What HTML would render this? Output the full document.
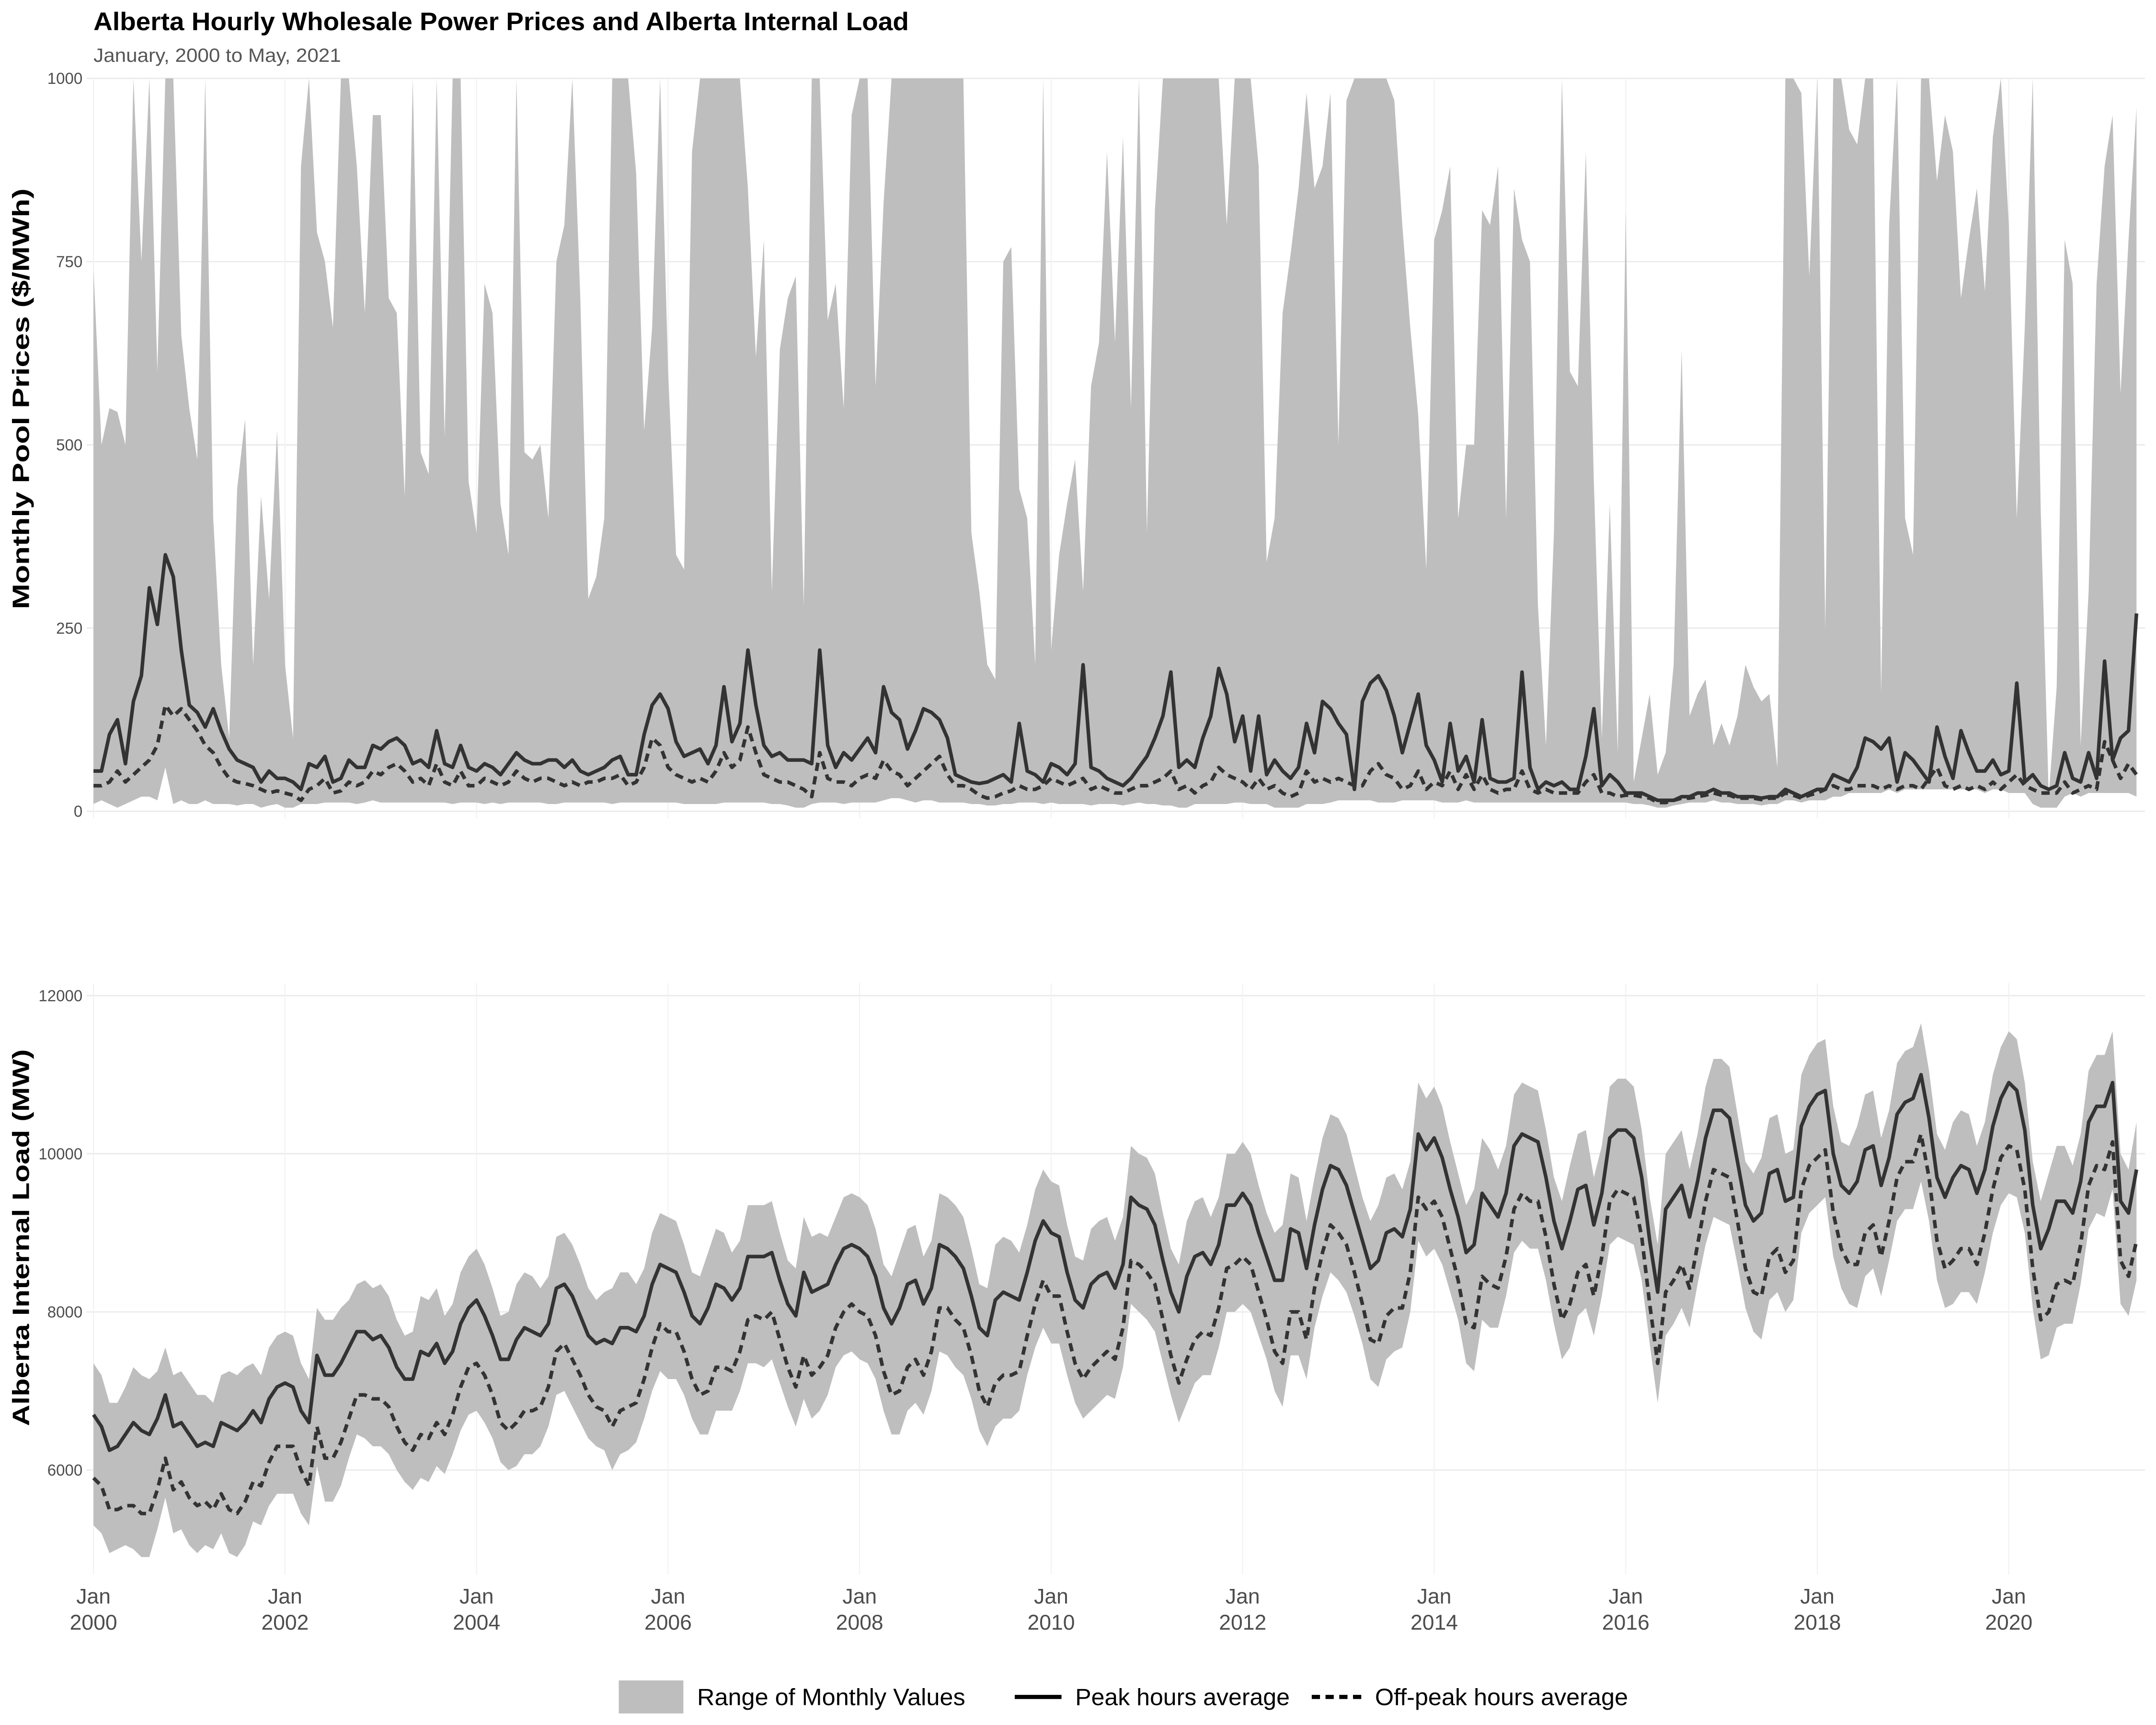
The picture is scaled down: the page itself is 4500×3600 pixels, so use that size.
<!DOCTYPE html>
<html><head><meta charset="utf-8">
<style>
html,body{margin:0;padding:0;background:#fff;}
svg{display:block;}
text{font-family:"Liberation Sans",Arial,sans-serif;}
</style></head>
<body>
<svg id="chart" width="4500" height="3600" viewBox="0 0 1568 1254.4" preserveAspectRatio="none" xmlns="http://www.w3.org/2000/svg">
<rect x="0" y="0" width="1568" height="1254.4" fill="#fff"/>
<text x="68" y="22" font-size="18.5" font-weight="bold" fill="#000" textLength="593" lengthAdjust="spacingAndGlyphs">Alberta Hourly Wholesale Power Prices and Alberta Internal Load</text>
<text x="68" y="45" font-size="14" fill="#555" textLength="180" lengthAdjust="spacingAndGlyphs">January, 2000 to May, 2021</text>
<text transform="translate(21,290) rotate(-90)" text-anchor="middle" font-size="17" font-weight="bold" fill="#000" textLength="306" lengthAdjust="spacingAndGlyphs">Monthly Pool Prices ($/MWh)</text>
<text transform="translate(21,900) rotate(-90)" text-anchor="middle" font-size="17" font-weight="bold" fill="#000" textLength="274" lengthAdjust="spacingAndGlyphs">Alberta Internal Load (MW)</text>
<defs><clipPath id="topclip"><rect x="60" y="56" width="1500" height="540"/></clipPath></defs>
<g id="grid"></g>
<g id="topPanel" clip-path="url(#topclip)"></g>
<g id="bottomPanel"></g>
<g id="axes"></g>
<g id="legend">
  <rect x="450" y="1222" width="47" height="24" fill="#bebebe"/>
  <text x="507" y="1240" font-size="17" fill="#000" textLength="195" lengthAdjust="spacingAndGlyphs">Range of Monthly Values</text>
  <line x1="738" y1="1234" x2="772" y2="1234" stroke="#000" stroke-width="3"/>
  <text x="782" y="1240" font-size="17" fill="#000" textLength="156" lengthAdjust="spacingAndGlyphs">Peak hours average</text>
  <line x1="954" y1="1234" x2="990" y2="1234" stroke="#000" stroke-width="3" stroke-dasharray="6,4"/>
  <text x="1000" y="1240" font-size="17" fill="#000" textLength="184" lengthAdjust="spacingAndGlyphs">Off-peak hours average</text>
</g>
</svg>
<script>
const priceMax=[740,500,550,545,500,1000,750,1000,600,1000,1000,650,
550,480,1000,400,200,100,440,535,200,430,290,520,
200,100,880,1000,790,750,660,1000,1000,880,680,950,
950,700,680,430,1000,490,460,1000,510,1000,1000,450,
380,720,680,420,350,1000,490,480,500,400,750,800,
1000,700,290,320,400,1000,1000,1000,870,520,660,1000,
600,350,330,900,1000,1000,1000,1000,1000,1000,850,620,
780,300,630,700,730,280,1000,1000,670,720,550,950,
1000,1000,580,830,1000,1000,1000,1000,1000,1000,1000,1000,
1000,1000,380,300,200,180,750,770,440,400,200,1000,
220,350,420,480,300,580,640,900,640,920,550,1000,
380,820,1000,1000,1000,1000,1000,1000,1000,1000,800,1000,
1000,1000,880,340,400,680,760,850,980,850,880,980,
500,970,1000,1000,1000,1000,1000,970,800,660,540,330,
780,820,880,400,500,500,820,800,880,400,850,780,
750,280,90,380,1000,600,580,900,450,100,420,80,
820,40,100,160,50,80,200,630,130,160,180,90,
120,90,130,200,170,150,160,60,1000,1000,980,730,
1000,250,1000,1000,930,910,1000,1000,160,800,1000,400,
350,1000,1000,860,950,900,700,780,850,710,920,1000,
800,400,660,1000,410,20,170,780,720,90,300,720,
880,950,570,780,960];
const priceMin=[10,15,10,5,10,15,20,20,15,60,10,15,
10,10,15,10,10,10,8,10,10,5,8,10,
5,5,10,10,10,12,12,12,12,10,12,15,
12,12,12,12,12,12,12,12,12,10,12,12,
12,10,12,10,12,12,12,12,12,10,10,12,
12,12,12,12,12,10,12,12,12,12,12,12,
12,12,10,10,10,10,10,12,12,12,12,12,
12,10,10,8,5,5,10,12,12,12,10,12,
12,12,12,15,18,18,15,12,15,15,12,12,
12,12,10,10,8,8,10,10,12,12,12,10,
12,10,10,10,10,8,10,10,10,8,10,12,
10,10,8,8,5,5,10,10,10,10,10,12,
12,10,10,10,5,5,5,5,10,10,10,12,
15,15,15,15,15,12,12,12,15,15,15,15,
15,12,12,12,15,12,12,12,12,12,12,12,
12,12,12,12,12,12,12,12,12,12,12,12,
12,10,10,8,5,5,8,10,12,12,12,15,
12,12,10,10,10,8,10,10,15,15,12,15,
15,15,20,20,25,25,25,25,25,30,25,30,
30,30,30,30,30,30,30,30,30,25,30,30,
25,25,25,10,5,5,5,20,25,20,25,25,
25,25,25,25,20];
const pricePeak=[55,55,105,125,65,150,185,305,255,350,320,220,
145,135,115,140,110,85,70,65,60,40,55,45,
45,40,30,65,60,75,40,45,70,60,60,90,
85,95,100,90,65,70,60,110,65,60,90,60,
55,65,60,50,65,80,70,65,65,70,70,60,
70,55,50,55,60,70,75,50,50,105,145,160,
140,95,75,80,85,65,90,170,95,120,220,145,
90,75,80,70,70,70,65,220,90,60,80,70,
85,100,80,170,135,125,85,110,140,135,125,100,
50,45,40,38,40,45,50,40,120,55,50,40,
65,60,50,65,200,60,55,45,40,35,45,60,
75,100,130,190,60,70,60,100,130,195,160,95,
130,55,130,50,70,55,45,60,120,80,150,140,
120,105,30,150,175,185,165,130,80,120,160,90,
70,40,120,55,75,40,125,45,40,40,45,190,
60,30,40,35,40,30,30,75,140,35,50,40,
25,25,25,20,15,15,15,20,20,25,25,30,
25,25,20,20,20,18,20,20,30,25,20,25,
30,30,50,45,40,60,100,95,85,100,40,80,
70,55,40,115,75,45,110,80,55,55,70,50,
55,175,40,50,35,30,35,80,45,40,80,45,
205,70,100,110,270];
const priceOff=[35,35,40,55,40,50,60,70,90,145,130,140,
125,110,90,80,60,45,40,38,35,30,25,28,
25,22,15,30,35,45,25,28,40,35,40,55,
50,60,65,55,40,45,35,65,40,35,55,35,
35,45,40,35,40,55,45,40,45,45,40,35,
40,35,40,40,45,45,50,35,40,60,100,90,
60,50,45,40,45,40,55,80,60,70,115,80,
50,45,40,40,35,30,20,80,45,40,40,35,
45,50,45,70,55,50,35,45,55,65,75,50,
35,35,30,22,18,20,25,28,35,30,30,35,
45,40,35,40,45,30,35,30,25,25,30,35,
35,40,45,55,30,35,25,35,40,60,50,45,
40,30,45,30,35,25,20,25,55,40,45,40,
45,40,35,35,55,65,50,45,30,35,55,30,
40,35,55,30,50,30,50,30,25,30,30,55,
30,25,30,25,25,25,25,40,50,25,25,20,
22,22,20,18,12,12,15,18,18,20,22,25,
22,22,18,18,18,16,18,18,25,22,18,22,
25,30,35,30,30,35,35,35,30,35,30,35,
35,30,45,60,35,30,35,30,35,30,40,30,
40,50,35,30,25,25,25,40,25,30,35,30,
95,70,45,65,50];
const loadPeak=[6700,6550,6250,6300,6450,6600,6500,6450,6650,6950,6550,6600,
6450,6300,6350,6300,6600,6550,6500,6600,6750,6600,6900,7050,
7100,7050,6750,6600,7450,7200,7200,7350,7550,7750,7750,7650,
7700,7550,7300,7150,7150,7500,7450,7600,7350,7500,7850,8050,
8150,7950,7700,7400,7400,7650,7800,7750,7700,7850,8300,8350,
8200,7950,7700,7600,7650,7600,7800,7800,7750,7950,8350,8600,
8550,8500,8250,7950,7850,8050,8350,8300,8150,8300,8700,8700,
8700,8750,8400,8100,7950,8500,8250,8300,8350,8600,8800,8850,
8800,8700,8450,8050,7850,8050,8350,8400,8100,8300,8850,8800,
8700,8550,8200,7800,7700,8150,8250,8200,8150,8500,8900,9150,
9000,8950,8500,8150,8050,8350,8450,8500,8300,8600,9450,9350,
9300,9100,8650,8250,8000,8450,8700,8750,8600,8850,9350,9350,
9500,9350,9000,8700,8400,8400,9050,9000,8550,9100,9550,9850,
9800,9600,9250,8900,8550,8650,9000,9050,8950,9300,10250,10050,
10200,9950,9550,9200,8750,8850,9500,9350,9200,9500,10100,10250,
10200,10150,9700,9150,8800,9150,9550,9600,9100,9500,10200,10300,
10300,10200,9700,8900,8250,9300,9450,9600,9200,9650,10200,10550,
10550,10450,9900,9350,9150,9250,9750,9800,9400,9450,10350,10600,
10750,10800,10000,9600,9500,9650,10050,10100,9600,9950,10500,10650,
10700,11000,10450,9700,9450,9700,9850,9800,9500,9800,10350,10700,
10900,10800,10300,9350,8800,9050,9400,9400,9250,9650,10400,10600,
10600,10900,9400,9250,9800];
const loadOff=[5900,5800,5500,5500,5550,5550,5450,5450,5750,6150,5750,5850,
5650,5550,5600,5500,5700,5500,5450,5600,5850,5800,6100,6300,
6300,6300,6000,5800,6550,6150,6150,6350,6650,6950,6950,6900,
6900,6800,6550,6350,6250,6450,6400,6600,6450,6700,7050,7300,
7350,7200,6950,6600,6500,6600,6750,6750,6800,7050,7500,7600,
7400,7200,6950,6800,6750,6550,6750,6800,6850,7150,7550,7850,
7750,7750,7500,7150,6950,7000,7300,7300,7250,7500,7900,7950,
7900,8000,7650,7300,7050,7450,7200,7300,7450,7800,8000,8100,
8000,7950,7700,7250,6950,7000,7300,7400,7200,7500,8050,8050,
7900,7800,7450,7000,6800,7100,7200,7200,7250,7700,8100,8400,
8200,8200,7750,7350,7150,7300,7400,7500,7400,7800,8650,8600,
8500,8350,7900,7450,7100,7400,7650,7750,7700,8050,8550,8600,
8700,8600,8250,7900,7500,7350,8000,8000,7650,8300,8750,9100,
9000,8850,8500,8100,7650,7600,7950,8050,8050,8500,9450,9300,
9400,9200,8800,8400,7850,7800,8450,8350,8300,8700,9300,9500,
9400,9400,8950,8350,7900,8100,8500,8600,8200,8700,9400,9550,
9500,9450,8950,8100,7350,8250,8400,8600,8300,8850,9400,9800,
9750,9700,9150,8550,8250,8200,8700,8800,8500,8650,9550,9850,
9950,10050,9250,8800,8600,8600,9000,9100,8700,9150,9700,9900,
9900,10250,9700,8900,8550,8650,8800,8800,8600,9000,9550,9950,
10100,10050,9550,8550,7900,8000,8350,8400,8350,8850,9600,9850,
9800,10150,8650,8450,8900];
const loadMax=[7350,7200,6850,6850,7050,7300,7200,7150,7250,7550,7200,7250,
7100,6950,6950,6850,7200,7250,7200,7300,7350,7200,7550,7700,
7750,7700,7350,7150,8050,7900,7900,8050,8150,8350,8400,8300,
8350,8200,7900,7700,7750,8200,8150,8300,7950,8100,8500,8700,
8800,8600,8300,7950,8000,8350,8500,8450,8300,8450,8950,9000,
8850,8600,8300,8150,8250,8300,8500,8500,8350,8550,9000,9250,
9200,9150,8850,8500,8450,8750,9050,9000,8750,8900,9350,9350,
9350,9400,9000,8650,8550,9200,8950,9000,8950,9200,9450,9500,
9450,9350,9050,8600,8450,8750,9050,9100,8700,8900,9500,9450,
9350,9200,8800,8350,8300,8850,8950,8900,8750,9100,9550,9800,
9650,9600,9100,8700,8650,9050,9150,9200,8900,9200,10100,10000,
9950,9750,9250,8800,8600,9150,9400,9450,9200,9450,10000,10000,
10150,10000,9600,9250,9000,9100,9750,9700,9150,9700,10200,10500,
10450,10250,9850,9450,9150,9350,9700,9750,9550,9900,10900,10700,
10850,10600,10150,9750,9350,9550,10200,10050,9800,10100,10750,10900,
10850,10800,10300,9700,9400,9850,10250,10300,9700,10100,10850,10950,
10950,10850,10300,9450,8850,10000,10150,10300,9800,10250,10850,11200,
11200,11100,10500,9900,9750,9950,10450,10500,10000,10050,11000,11250,
11400,11450,10600,10150,10100,10350,10750,10800,10200,10550,11150,11300,
11350,11650,11050,10250,10050,10400,10550,10500,10100,10400,11000,11350,
11550,11450,10900,9900,9400,9750,10100,10100,9850,10250,11050,11250,
11250,11550,10000,9800,10400];
const loadMin=[5300,5200,4950,5000,5050,5000,4900,4900,5250,5650,5200,5250,
5050,4950,5050,5000,5200,4950,4900,5050,5350,5300,5550,5700,
5700,5700,5450,5300,6050,5600,5600,5800,6150,6450,6400,6300,
6300,6200,6000,5850,5750,5900,5850,6050,5950,6200,6500,6700,
6750,6600,6400,6100,6000,6050,6200,6200,6300,6550,6950,7000,
6800,6600,6400,6300,6250,6000,6200,6250,6350,6650,7000,7250,
7150,7150,6950,6650,6450,6450,6750,6750,6750,7000,7350,7350,
7300,7400,7100,6800,6550,6900,6650,6750,6950,7300,7450,7500,
7400,7350,7150,6750,6450,6450,6750,6850,6700,7000,7500,7450,
7300,7200,6900,6500,6300,6550,6650,6650,6750,7200,7550,7800,
7600,7600,7200,6850,6650,6750,6850,6950,6900,7300,8100,8000,
7900,7750,7350,6950,6600,6850,7100,7200,7200,7550,8000,8000,
8100,8000,7700,7400,7000,6800,7450,7450,7150,7800,8200,8500,
8400,8250,7950,7600,7150,7050,7400,7500,7550,8000,8900,8700,
8800,8600,8250,7900,7350,7250,7900,7800,7800,8200,8750,8900,
8800,8800,8400,7850,7400,7550,7950,8050,7700,8200,8850,8950,
8900,8850,8400,7600,6850,7700,7850,8050,7800,8350,8850,9200,
9150,9100,8600,8050,7750,7650,8150,8250,8000,8150,9000,9250,
9350,9450,8700,8300,8100,8050,8450,8550,8200,8650,9150,9300,
9300,9650,9150,8400,8050,8100,8250,8250,8100,8500,9000,9350,
9500,9450,9000,8050,7400,7450,7800,7850,7850,8350,9050,9250,
9200,9550,8100,7950,8400];
const priceTicks=[0,250,500,750,1000];
const loadTicks=[6000,8000,10000,12000];
const yearTicks=[2000,2002,2004,2006,2008,2010,2012,2014,2016,2018,2020];

const NS="http://www.w3.org/2000/svg";
function mk(tag,attrs,parent){const e=document.createElementNS(NS,tag);for(const k in attrs)e.setAttribute(k,attrs[k]);parent.appendChild(e);return e;}
const X0=68, MONTH=5.804;
function xm(i){return X0+i*MONTH;}
function yp(v){return 590-v*0.533;}
function yl(v){return 1069-(v-6000)*0.0575;}
const gridG=document.getElementById('grid');
const topG=document.getElementById('topPanel');
const bottomG=document.getElementById('bottomPanel');
const axesG=document.getElementById('axes');

priceTicks.forEach(t=>{
  const l=mk('line',{x1:63,x2:1560,y1:yp(t),y2:yp(t),stroke:'#ebebeb','stroke-width':1},gridG);
  
  
  const tx=mk('text',{x:60,y:yp(t)+4,'text-anchor':'end','font-size':11.5,fill:'#4d4d4d'},axesG);
  tx.textContent=t;
  
  
});
loadTicks.forEach(t=>{
  const l=mk('line',{x1:63,x2:1560,y1:yl(t),y2:yl(t),stroke:'#ebebeb','stroke-width':1},gridG);
  
  
  const tx=mk('text',{x:60,y:yl(t)+4,'text-anchor':'end','font-size':11.5,fill:'#4d4d4d'},axesG);
  tx.textContent=t;
  
  
});
yearTicks.forEach(yr=>{
  const x=xm((yr-2000)*12);
  const g1=mk('line',{x1:x,x2:x,y1:57,y2:595,stroke:'#f2f2f2','stroke-width':0.8},gridG);
  
  
  const g2=mk('line',{x1:x,x2:x,y1:715,y2:1145,stroke:'#f2f2f2','stroke-width':0.8},gridG);
  
  
  const t1=mk('text',{x:x,y:1166,'text-anchor':'middle','font-size':15.5,fill:'#4d4d4d'},axesG);
  t1.textContent='Jan';
  
  
  const t2=mk('text',{x:x,y:1185,'text-anchor':'middle','font-size':15.5,fill:'#4d4d4d'},axesG);
  t2.textContent=yr;
  
  
});

function area(maxA,minA,yf,parent,name){
  let d='';
  for(let i=0;i<maxA.length;i++)d+=(i?'L':'M')+xm(i).toFixed(2)+','+yf(maxA[i]).toFixed(2);
  for(let i=minA.length-1;i>=0;i--)d+='L'+xm(i).toFixed(2)+','+yf(minA[i]).toFixed(2);
  const p=mk('path',{d:d+'Z',fill:'#bebebe',stroke:'none'},parent);
  
  
}
function line(arr,yf,parent,dash,name){
  let d='';
  for(let i=0;i<arr.length;i++)d+=(i?'L':'M')+xm(i).toFixed(2)+','+yf(arr[i]).toFixed(2);
  const attrs={d:d,fill:'none',stroke:'#333','stroke-width':2.6,'stroke-linejoin':'round'};
  if(dash)attrs['stroke-dasharray']='6,4';
  const p=mk('path',attrs,parent);
  
  
}
area(priceMax,priceMin,yp,topG,'price-range-area');
line(priceOff,yp,topG,true,'price-offpeak-line');
line(pricePeak,yp,topG,false,'price-peak-line');
area(loadMax,loadMin,yl,bottomG,'load-range-area');
line(loadOff,yl,bottomG,true,'load-offpeak-line');
line(loadPeak,yl,bottomG,false,'load-peak-line');
</script>
</body></html>
